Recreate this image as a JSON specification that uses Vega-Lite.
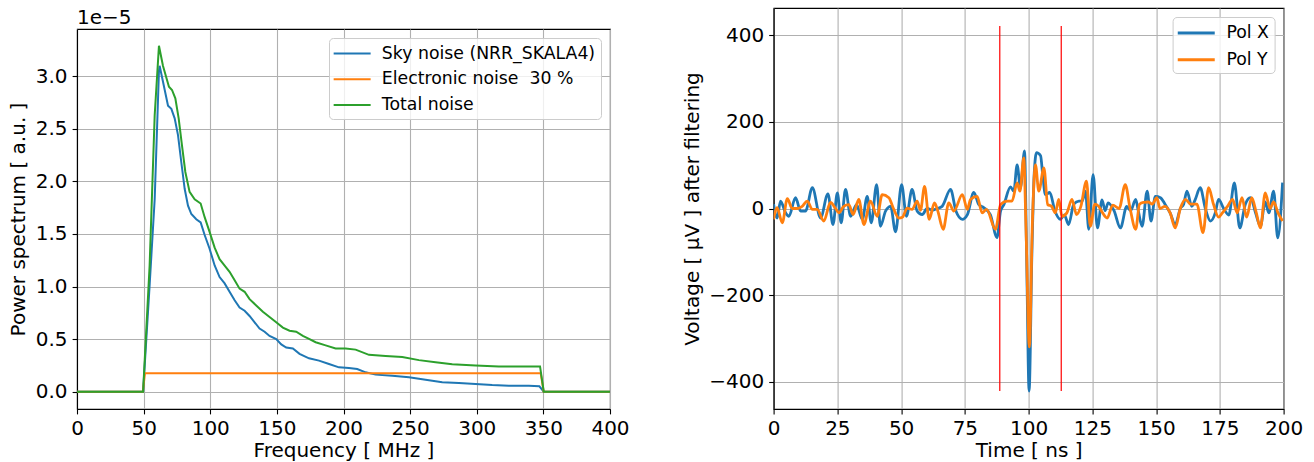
{
"$schema": "https://vega.github.io/schema/vega-lite/v6.json",
"padding": {"left": 7, "top": 7, "right": 2, "bottom": 0},
"spacing": 51.6,
"resolve": {"scale": {"color": "independent"}, "legend": {"color": "independent"}},
"datasets": {
"spec": [
{"f":0,"p":0,"s":"Sky noise (NRR_SKALA4)"},{"f":49.6,"p":0,"s":"Sky noise (NRR_SKALA4)"},{"f":54.5,"p":1.01,"s":"Sky noise (NRR_SKALA4)"},{"f":58.3,"p":1.83,"s":"Sky noise (NRR_SKALA4)"},{"f":61.5,"p":3.05,"s":"Sky noise (NRR_SKALA4)"},{"f":62,"p":3.1,"s":"Sky noise (NRR_SKALA4)"},{"f":64.5,"p":2.95,"s":"Sky noise (NRR_SKALA4)"},{"f":68.3,"p":2.72,"s":"Sky noise (NRR_SKALA4)"},{"f":70.8,"p":2.69,"s":"Sky noise (NRR_SKALA4)"},{"f":73.3,"p":2.6,"s":"Sky noise (NRR_SKALA4)"},{"f":75.8,"p":2.44,"s":"Sky noise (NRR_SKALA4)"},{"f":78.3,"p":2.18,"s":"Sky noise (NRR_SKALA4)"},{"f":80.8,"p":1.93,"s":"Sky noise (NRR_SKALA4)"},{"f":83.3,"p":1.77,"s":"Sky noise (NRR_SKALA4)"},{"f":85.8,"p":1.69,"s":"Sky noise (NRR_SKALA4)"},{"f":89.5,"p":1.64,"s":"Sky noise (NRR_SKALA4)"},{"f":92.8,"p":1.61,"s":"Sky noise (NRR_SKALA4)"},{"f":95.8,"p":1.49,"s":"Sky noise (NRR_SKALA4)"},{"f":99.5,"p":1.36,"s":"Sky noise (NRR_SKALA4)"},{"f":103.3,"p":1.2,"s":"Sky noise (NRR_SKALA4)"},{"f":107,"p":1.09,"s":"Sky noise (NRR_SKALA4)"},{"f":110.8,"p":1.03,"s":"Sky noise (NRR_SKALA4)"},{"f":114.5,"p":0.95,"s":"Sky noise (NRR_SKALA4)"},{"f":118.3,"p":0.87,"s":"Sky noise (NRR_SKALA4)"},{"f":122,"p":0.8,"s":"Sky noise (NRR_SKALA4)"},{"f":125.8,"p":0.77,"s":"Sky noise (NRR_SKALA4)"},{"f":129.5,"p":0.72,"s":"Sky noise (NRR_SKALA4)"},{"f":133.3,"p":0.66,"s":"Sky noise (NRR_SKALA4)"},{"f":137,"p":0.6,"s":"Sky noise (NRR_SKALA4)"},{"f":140.8,"p":0.57,"s":"Sky noise (NRR_SKALA4)"},{"f":144.5,"p":0.53,"s":"Sky noise (NRR_SKALA4)"},{"f":149.5,"p":0.5,"s":"Sky noise (NRR_SKALA4)"},{"f":153.3,"p":0.45,"s":"Sky noise (NRR_SKALA4)"},{"f":157,"p":0.42,"s":"Sky noise (NRR_SKALA4)"},{"f":162,"p":0.41,"s":"Sky noise (NRR_SKALA4)"},{"f":167,"p":0.36,"s":"Sky noise (NRR_SKALA4)"},{"f":174.1,"p":0.317,"s":"Sky noise (NRR_SKALA4)"},{"f":181.6,"p":0.295,"s":"Sky noise (NRR_SKALA4)"},{"f":189.1,"p":0.263,"s":"Sky noise (NRR_SKALA4)"},{"f":196.6,"p":0.231,"s":"Sky noise (NRR_SKALA4)"},{"f":204.1,"p":0.225,"s":"Sky noise (NRR_SKALA4)"},{"f":210.3,"p":0.216,"s":"Sky noise (NRR_SKALA4)"},{"f":216.6,"p":0.184,"s":"Sky noise (NRR_SKALA4)"},{"f":224.1,"p":0.162,"s":"Sky noise (NRR_SKALA4)"},{"f":236.6,"p":0.152,"s":"Sky noise (NRR_SKALA4)"},{"f":249.1,"p":0.137,"s":"Sky noise (NRR_SKALA4)"},{"f":261.6,"p":0.114,"s":"Sky noise (NRR_SKALA4)"},{"f":274.1,"p":0.089,"s":"Sky noise (NRR_SKALA4)"},{"f":286.6,"p":0.083,"s":"Sky noise (NRR_SKALA4)"},{"f":299.1,"p":0.073,"s":"Sky noise (NRR_SKALA4)"},{"f":311.6,"p":0.063,"s":"Sky noise (NRR_SKALA4)"},{"f":324.1,"p":0.057,"s":"Sky noise (NRR_SKALA4)"},{"f":339.1,"p":0.057,"s":"Sky noise (NRR_SKALA4)"},{"f":347,"p":0.051,"s":"Sky noise (NRR_SKALA4)"},{"f":350.3,"p":0,"s":"Sky noise (NRR_SKALA4)"},{"f":400,"p":0,"s":"Sky noise (NRR_SKALA4)"},
{"f":0,"p":0,"s":"Electronic noise  30 %"},{"f":49.4,"p":0,"s":"Electronic noise  30 %"},{"f":51,"p":0.175,"s":"Electronic noise  30 %"},{"f":348,"p":0.175,"s":"Electronic noise  30 %"},{"f":350.2,"p":0,"s":"Electronic noise  30 %"},{"f":400,"p":0,"s":"Electronic noise  30 %"},
{"f":0,"p":0,"s":"Total noise"},{"f":49.6,"p":0,"s":"Total noise"},{"f":54.5,"p":1.2,"s":"Total noise"},{"f":58.3,"p":2.63,"s":"Total noise"},{"f":61.5,"p":3.29,"s":"Total noise"},{"f":64.5,"p":3.1,"s":"Total noise"},{"f":69,"p":2.9,"s":"Total noise"},{"f":71.3,"p":2.87,"s":"Total noise"},{"f":73.8,"p":2.79,"s":"Total noise"},{"f":76.3,"p":2.6,"s":"Total noise"},{"f":78.8,"p":2.34,"s":"Total noise"},{"f":81.3,"p":2.09,"s":"Total noise"},{"f":84.5,"p":1.9,"s":"Total noise"},{"f":88.3,"p":1.83,"s":"Total noise"},{"f":92.8,"p":1.79,"s":"Total noise"},{"f":95.8,"p":1.66,"s":"Total noise"},{"f":99.5,"p":1.52,"s":"Total noise"},{"f":103.3,"p":1.37,"s":"Total noise"},{"f":107,"p":1.26,"s":"Total noise"},{"f":110.8,"p":1.2,"s":"Total noise"},{"f":114.5,"p":1.14,"s":"Total noise"},{"f":118.3,"p":1.06,"s":"Total noise"},{"f":122,"p":0.98,"s":"Total noise"},{"f":125.8,"p":0.95,"s":"Total noise"},{"f":129.5,"p":0.88,"s":"Total noise"},{"f":134.5,"p":0.82,"s":"Total noise"},{"f":139.5,"p":0.76,"s":"Total noise"},{"f":144.5,"p":0.71,"s":"Total noise"},{"f":149.5,"p":0.66,"s":"Total noise"},{"f":154.5,"p":0.61,"s":"Total noise"},{"f":159.5,"p":0.58,"s":"Total noise"},{"f":164.5,"p":0.57,"s":"Total noise"},{"f":169.5,"p":0.53,"s":"Total noise"},{"f":174.5,"p":0.5,"s":"Total noise"},{"f":179.1,"p":0.47,"s":"Total noise"},{"f":186.6,"p":0.44,"s":"Total noise"},{"f":194.1,"p":0.41,"s":"Total noise"},{"f":201.6,"p":0.41,"s":"Total noise"},{"f":209.1,"p":0.4,"s":"Total noise"},{"f":219.1,"p":0.35,"s":"Total noise"},{"f":231.6,"p":0.34,"s":"Total noise"},{"f":244.1,"p":0.33,"s":"Total noise"},{"f":256.6,"p":0.3,"s":"Total noise"},{"f":269.1,"p":0.28,"s":"Total noise"},{"f":281.6,"p":0.26,"s":"Total noise"},{"f":299.1,"p":0.25,"s":"Total noise"},{"f":316.6,"p":0.24,"s":"Total noise"},{"f":331.6,"p":0.24,"s":"Total noise"},{"f":347.5,"p":0.24,"s":"Total noise"},{"f":350.3,"p":0,"s":"Total noise"},{"f":400,"p":0,"s":"Total noise"}
],
"volt": [
{"t":0,"v":10,"pol":"Pol X"},{"t":1.4,"v":-22,"pol":"Pol X"},{"t":2.7,"v":17,"pol":"Pol X"},{"t":4.7,"v":-10,"pol":"Pol X"},{"t":6,"v":-18,"pol":"Pol X"},{"t":8.6,"v":25,"pol":"Pol X"},{"t":10.6,"v":-6,"pol":"Pol X"},{"t":12.5,"v":-6,"pol":"Pol X"},{"t":15.2,"v":48,"pol":"Pol X"},{"t":18.4,"v":-22,"pol":"Pol X"},{"t":21.3,"v":34,"pol":"Pol X"},{"t":23.3,"v":-37,"pol":"Pol X"},{"t":25,"v":36,"pol":"Pol X"},{"t":26.5,"v":-33,"pol":"Pol X"},{"t":28.2,"v":44,"pol":"Pol X"},{"t":30.2,"v":-18,"pol":"Pol X"},{"t":32.5,"v":9,"pol":"Pol X"},{"t":34.8,"v":-25,"pol":"Pol X"},{"t":36.7,"v":28,"pol":"Pol X"},{"t":38.3,"v":-33,"pol":"Pol X"},{"t":40.4,"v":55,"pol":"Pol X"},{"t":41.9,"v":-41,"pol":"Pol X"},{"t":43.9,"v":-6,"pol":"Pol X"},{"t":45.9,"v":5,"pol":"Pol X"},{"t":47.8,"v":-54,"pol":"Pol X"},{"t":50.2,"v":55,"pol":"Pol X"},{"t":52.1,"v":-18,"pol":"Pol X"},{"t":54.3,"v":44,"pol":"Pol X"},{"t":56.3,"v":-6,"pol":"Pol X"},{"t":58.3,"v":-14,"pol":"Pol X"},{"t":60.2,"v":0,"pol":"Pol X"},{"t":62.2,"v":-4,"pol":"Pol X"},{"t":64.2,"v":0,"pol":"Pol X"},{"t":66.1,"v":5,"pol":"Pol X"},{"t":69.4,"v":44,"pol":"Pol X"},{"t":71.5,"v":-6,"pol":"Pol X"},{"t":74,"v":-25,"pol":"Pol X"},{"t":76,"v":-14,"pol":"Pol X"},{"t":78.5,"v":37,"pol":"Pol X"},{"t":80.5,"v":9,"pol":"Pol X"},{"t":82.4,"v":2,"pol":"Pol X"},{"t":85,"v":-14,"pol":"Pol X"},{"t":87.6,"v":-67,"pol":"Pol X"},{"t":89,"v":-6,"pol":"Pol X"},{"t":90.3,"v":9,"pol":"Pol X"},{"t":92.9,"v":50,"pol":"Pol X"},{"t":94.2,"v":40,"pol":"Pol X"},{"t":95.5,"v":101,"pol":"Pol X"},{"t":96.8,"v":48,"pol":"Pol X"},{"t":98.4,"v":133,"pol":"Pol X"},{"t":99.2,"v":-100,"pol":"Pol X"},{"t":100.2,"v":-422,"pol":"Pol X"},{"t":101.3,"v":-100,"pol":"Pol X"},{"t":102.2,"v":80,"pol":"Pol X"},{"t":103.1,"v":129,"pol":"Pol X"},{"t":104.7,"v":122,"pol":"Pol X"},{"t":105.5,"v":80,"pol":"Pol X"},{"t":106.6,"v":32,"pol":"Pol X"},{"t":108.3,"v":37,"pol":"Pol X"},{"t":110.3,"v":-5,"pol":"Pol X"},{"t":112.5,"v":-25,"pol":"Pol X"},{"t":114,"v":-15,"pol":"Pol X"},{"t":115.7,"v":-37,"pol":"Pol X"},{"t":117.7,"v":10,"pol":"Pol X"},{"t":119.7,"v":17,"pol":"Pol X"},{"t":121,"v":17,"pol":"Pol X"},{"t":122.3,"v":40,"pol":"Pol X"},{"t":123.6,"v":-48,"pol":"Pol X"},{"t":125.3,"v":78,"pol":"Pol X"},{"t":127,"v":-45,"pol":"Pol X"},{"t":128.8,"v":20,"pol":"Pol X"},{"t":130,"v":-5,"pol":"Pol X"},{"t":131.2,"v":13,"pol":"Pol X"},{"t":133.5,"v":-5,"pol":"Pol X"},{"t":136,"v":-45,"pol":"Pol X"},{"t":138.5,"v":5,"pol":"Pol X"},{"t":140,"v":-5,"pol":"Pol X"},{"t":142,"v":21,"pol":"Pol X"},{"t":143,"v":-5,"pol":"Pol X"},{"t":144.5,"v":-41,"pol":"Pol X"},{"t":146.5,"v":40,"pol":"Pol X"},{"t":148,"v":-29,"pol":"Pol X"},{"t":149.7,"v":28,"pol":"Pol X"},{"t":151.7,"v":25,"pol":"Pol X"},{"t":153.5,"v":10,"pol":"Pol X"},{"t":155.5,"v":-10,"pol":"Pol X"},{"t":157.5,"v":-37,"pol":"Pol X"},{"t":159.5,"v":0,"pol":"Pol X"},{"t":160.8,"v":10,"pol":"Pol X"},{"t":162.1,"v":40,"pol":"Pol X"},{"t":164,"v":5,"pol":"Pol X"},{"t":165.3,"v":20,"pol":"Pol X"},{"t":167.3,"v":48,"pol":"Pol X"},{"t":169.3,"v":0,"pol":"Pol X"},{"t":171.3,"v":-29,"pol":"Pol X"},{"t":173.2,"v":-10,"pol":"Pol X"},{"t":174.5,"v":21,"pol":"Pol X"},{"t":176.5,"v":0,"pol":"Pol X"},{"t":178.5,"v":-15,"pol":"Pol X"},{"t":180.7,"v":59,"pol":"Pol X"},{"t":182.8,"v":-45,"pol":"Pol X"},{"t":185,"v":10,"pol":"Pol X"},{"t":187,"v":25,"pol":"Pol X"},{"t":189,"v":-10,"pol":"Pol X"},{"t":190.9,"v":-41,"pol":"Pol X"},{"t":192.8,"v":15,"pol":"Pol X"},{"t":194.2,"v":-10,"pol":"Pol X"},{"t":196.1,"v":40,"pol":"Pol X"},{"t":197.7,"v":-68,"pol":"Pol X"},{"t":199.6,"v":60,"pol":"Pol X"},
{"t":0,"v":-25,"pol":"Pol Y"},{"t":1.4,"v":2,"pol":"Pol Y"},{"t":3.4,"v":-33,"pol":"Pol Y"},{"t":5.4,"v":23,"pol":"Pol Y"},{"t":7.3,"v":0,"pol":"Pol Y"},{"t":9.3,"v":0,"pol":"Pol Y"},{"t":11.2,"v":5,"pol":"Pol Y"},{"t":13.2,"v":17,"pol":"Pol Y"},{"t":15.2,"v":-2,"pol":"Pol Y"},{"t":17.1,"v":-2,"pol":"Pol Y"},{"t":19.7,"v":-29,"pol":"Pol Y"},{"t":22.3,"v":14,"pol":"Pol Y"},{"t":24.3,"v":0,"pol":"Pol Y"},{"t":25.6,"v":-10,"pol":"Pol Y"},{"t":27.5,"v":5,"pol":"Pol Y"},{"t":29.5,"v":9,"pol":"Pol Y"},{"t":31.2,"v":-14,"pol":"Pol Y"},{"t":33.4,"v":21,"pol":"Pol Y"},{"t":35.4,"v":-37,"pol":"Pol Y"},{"t":38,"v":17,"pol":"Pol Y"},{"t":40.6,"v":-18,"pol":"Pol Y"},{"t":42.6,"v":32,"pol":"Pol Y"},{"t":45.2,"v":25,"pol":"Pol Y"},{"t":47,"v":0,"pol":"Pol Y"},{"t":49.1,"v":-22,"pol":"Pol Y"},{"t":50.5,"v":-20,"pol":"Pol Y"},{"t":52.4,"v":1,"pol":"Pol Y"},{"t":54.3,"v":-2,"pol":"Pol Y"},{"t":56.3,"v":17,"pol":"Pol Y"},{"t":57.6,"v":-4,"pol":"Pol Y"},{"t":59.2,"v":51,"pol":"Pol Y"},{"t":61,"v":-25,"pol":"Pol Y"},{"t":63.1,"v":13,"pol":"Pol Y"},{"t":64.4,"v":-6,"pol":"Pol Y"},{"t":66.5,"v":-48,"pol":"Pol Y"},{"t":68.7,"v":13,"pol":"Pol Y"},{"t":70.7,"v":-6,"pol":"Pol Y"},{"t":74,"v":32,"pol":"Pol Y"},{"t":76,"v":-2,"pol":"Pol Y"},{"t":77.2,"v":21,"pol":"Pol Y"},{"t":79.8,"v":28,"pol":"Pol Y"},{"t":81.8,"v":-10,"pol":"Pol Y"},{"t":83.5,"v":-2,"pol":"Pol Y"},{"t":87,"v":-48,"pol":"Pol Y"},{"t":89,"v":9,"pol":"Pol Y"},{"t":91.6,"v":17,"pol":"Pol Y"},{"t":93.5,"v":17,"pol":"Pol Y"},{"t":95.5,"v":59,"pol":"Pol Y"},{"t":96.6,"v":40,"pol":"Pol Y"},{"t":98.1,"v":117,"pol":"Pol Y"},{"t":99,"v":-50,"pol":"Pol Y"},{"t":100.3,"v":-320,"pol":"Pol Y"},{"t":101.5,"v":-30,"pol":"Pol Y"},{"t":102.7,"v":101,"pol":"Pol Y"},{"t":104,"v":40,"pol":"Pol Y"},{"t":106,"v":94,"pol":"Pol Y"},{"t":107.5,"v":9,"pol":"Pol Y"},{"t":109,"v":5,"pol":"Pol Y"},{"t":110.5,"v":-10,"pol":"Pol Y"},{"t":111.8,"v":21,"pol":"Pol Y"},{"t":113.1,"v":-18,"pol":"Pol Y"},{"t":115,"v":-10,"pol":"Pol Y"},{"t":117,"v":21,"pol":"Pol Y"},{"t":118.8,"v":-14,"pol":"Pol Y"},{"t":120.5,"v":5,"pol":"Pol Y"},{"t":122.7,"v":63,"pol":"Pol Y"},{"t":124.2,"v":-41,"pol":"Pol Y"},{"t":126,"v":10,"pol":"Pol Y"},{"t":127.5,"v":5,"pol":"Pol Y"},{"t":129,"v":-10,"pol":"Pol Y"},{"t":130.8,"v":-22,"pol":"Pol Y"},{"t":133,"v":8,"pol":"Pol Y"},{"t":135.5,"v":0,"pol":"Pol Y"},{"t":137.9,"v":55,"pol":"Pol Y"},{"t":139.8,"v":0,"pol":"Pol Y"},{"t":142,"v":-48,"pol":"Pol Y"},{"t":143.5,"v":10,"pol":"Pol Y"},{"t":145,"v":14,"pol":"Pol Y"},{"t":147,"v":15,"pol":"Pol Y"},{"t":148.5,"v":10,"pol":"Pol Y"},{"t":150.3,"v":25,"pol":"Pol Y"},{"t":151.5,"v":0,"pol":"Pol Y"},{"t":153.5,"v":5,"pol":"Pol Y"},{"t":155.5,"v":-10,"pol":"Pol Y"},{"t":157.5,"v":-45,"pol":"Pol Y"},{"t":159.5,"v":0,"pol":"Pol Y"},{"t":161.5,"v":21,"pol":"Pol Y"},{"t":163.5,"v":10,"pol":"Pol Y"},{"t":166,"v":10,"pol":"Pol Y"},{"t":168.4,"v":-56,"pol":"Pol Y"},{"t":170.6,"v":48,"pol":"Pol Y"},{"t":172.5,"v":10,"pol":"Pol Y"},{"t":174.5,"v":-20,"pol":"Pol Y"},{"t":176,"v":-10,"pol":"Pol Y"},{"t":178,"v":5,"pol":"Pol Y"},{"t":180,"v":21,"pol":"Pol Y"},{"t":181.8,"v":-10,"pol":"Pol Y"},{"t":183.7,"v":25,"pol":"Pol Y"},{"t":185.5,"v":-20,"pol":"Pol Y"},{"t":187.5,"v":25,"pol":"Pol Y"},{"t":189.3,"v":-10,"pol":"Pol Y"},{"t":190.9,"v":-45,"pol":"Pol Y"},{"t":192.8,"v":36,"pol":"Pol Y"},{"t":194.7,"v":0,"pol":"Pol Y"},{"t":196.1,"v":15,"pol":"Pol Y"},{"t":197.8,"v":-10,"pol":"Pol Y"},{"t":199.6,"v":-29,"pol":"Pol Y"}
],
"cuts": [{"t":88.7,"lo":-422,"hi":422},{"t":112.8,"lo":-422,"hi":422}],
"offsettext": [{"f":0,"label":"1e−5"}]
},
"config": {
"font": "DejaVu Sans",
"view": {"stroke": "black", "strokeWidth": 1.1},
"axis": {"domainColor": "black", "domainWidth": 1.1, "tickColor": "black", "tickWidth": 1.1, "tickSize": 4.9, "labelPadding": 5, "labelFont": "DejaVu Sans", "labelFontSize": 20, "labelColor": "black", "labelFlush": false, "labelOverlap": false, "titleFont": "DejaVu Sans", "titleFontSize": 20, "titleFontWeight": "normal", "titleColor": "black", "gridColor": "#b0b0b0", "gridWidth": 1.1, "gridOpacity": 1},
"legend": {"orient": "top-right", "offset": 8.8, "padding": 5, "strokeColor": "#cccccc", "fillColor": "rgba(255,255,255,0.8)", "cornerRadius": 4, "labelFont": "DejaVu Sans", "labelFontSize": 17.3, "labelColor": "black", "labelLimit": 400, "labelOffset": 19.2, "symbolType": "M-2,0H2", "symbolSize": 342, "symbolOffset": 7.65, "rowPadding": 6.7}
},
"hconcat": [
{
"spacing": 0,
"vconcat": [
{
"width": 533, "height": 20,
"view": {"stroke": null},
"data": {"name": "offsettext"},
"mark": {"type": "text", "align": "left", "baseline": "middle", "fontSize": 20, "font": "DejaVu Sans", "color": "black"},
"encoding": {
"x": {"field": "f", "type": "quantitative", "scale": {"domain": [0, 400], "nice": false}, "axis": null},
"text": {"field": "label"}
}
},
{
"width": 533, "height": 380,
"data": {"name": "spec"},
"mark": {"type": "line", "strokeWidth": 2, "clip": true},
"encoding": {
"x": {"field": "f", "type": "quantitative", "scale": {"domain": [0, 400], "nice": false}, "axis": {"values": [0, 50, 100, 150, 200, 250, 300, 350, 400], "title": "Frequency [ MHz ]", "titlePadding": 2}},
"y": {"field": "p", "type": "quantitative", "scale": {"domain": [-0.165, 3.45], "nice": false, "zero": false}, "axis": {"values": [0, 0.5, 1, 1.5, 2, 2.5, 3], "format": ".1f", "title": "Power spectrum [ a.u. ]", "titlePadding": 7}},
"color": {"field": "s", "type": "nominal", "scale": {"domain": ["Sky noise (NRR_SKALA4)", "Electronic noise  30 %", "Total noise"], "range": ["#1f77b4", "#ff7f0e", "#2ca02c"]}, "legend": {"title": null, "symbolStrokeWidth": 2, "labelExpr": "datum.label === 'Electronic noise  30 %' ? 'Electronic noise\u00a0 30 %' : datum.label"}}
}
}
],
"resolve": {"scale": {"color": "independent", "x": "independent"}, "legend": {"color": "independent"}}
},
{
"width": 510, "height": 401,
"layer": [
{
"data": {"name": "volt"},
"mark": {"type": "line", "strokeWidth": 2.8, "interpolate": "monotone", "clip": true},
"encoding": {
"x": {"field": "t", "type": "quantitative", "scale": {"domain": [0, 200], "nice": false}, "axis": {"values": [0, 25, 50, 75, 100, 125, 150, 175, 200], "title": "Time [ ns ]", "titlePadding": 2}},
"y": {"field": "v", "type": "quantitative", "scale": {"domain": [-463.5, 463.5], "nice": false, "zero": false}, "axis": {"values": [-400, -200, 0, 200, 400], "format": "d", "title": "Voltage [ μV ] after filtering", "titlePadding": 6}},
"color": {"field": "pol", "type": "nominal", "scale": {"domain": ["Pol X", "Pol Y"], "range": ["#1f77b4", "#ff7f0e"]}, "legend": {"title": null, "symbolStrokeWidth": 3}}
}
},
{
"data": {"name": "cuts"},
"mark": {"type": "rule", "color": "#ff0000", "strokeWidth": 1.2},
"encoding": {
"x": {"field": "t", "type": "quantitative"},
"y": {"field": "lo", "type": "quantitative"},
"y2": {"field": "hi"}
}
}
]
}
]
}
